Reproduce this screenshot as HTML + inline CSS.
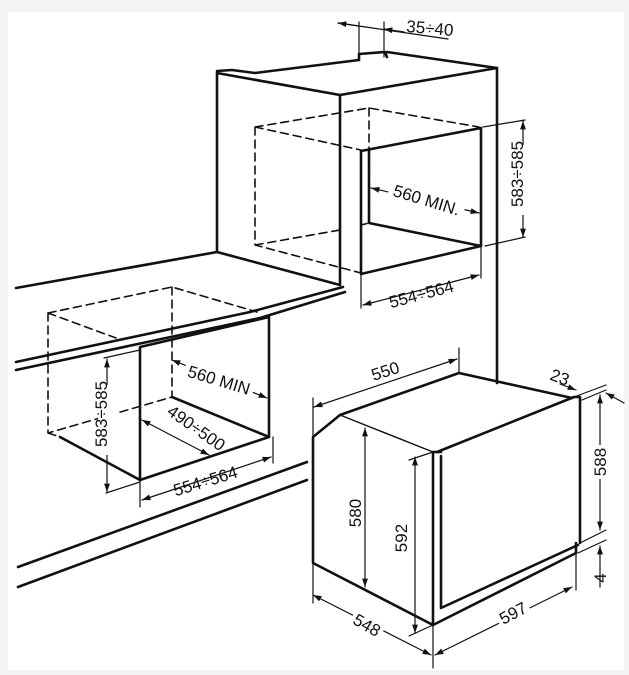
<!DOCTYPE html>
<html><head><meta charset="utf-8"><style>
html,body{margin:0;padding:0;background:#fff}
svg{display:block}
text{font-family:"Liberation Sans",sans-serif;font-size:17px;fill:#111}
</style></head><body>
<svg width="629" height="675" viewBox="0 0 629 675" xmlns="http://www.w3.org/2000/svg">
<defs>
<marker id="a" viewBox="0 0 10 10" refX="10" refY="5" markerWidth="7" markerHeight="7" orient="auto-start-reverse"><path d="M0,1.5 L10,5 L0,8.5z" fill="#111"/></marker>
</defs>
<rect x="0" y="0" width="629" height="675" fill="#f4f4f4"/>
<rect x="8" y="12" width="616" height="658" fill="#fff"/>
<g fill="none" stroke="#111" stroke-linecap="round" stroke-linejoin="round">
<!-- tall unit -->
<g stroke-width="2.6">
<path d="M217,71 L232,70 L255,73 L359,60 M387,52 L497,68 L497,383"/>
<path d="M217,73 L340,95 L497,68"/>
<path d="M217,73 L217,252 M340,95 L340,285"/>
<path d="M359,60 L359,54 L385,52 L387,57"/>
<!-- worktop -->
<path d="M16,288 L217,252 L340,285"/>
<path d="M16,362 L250,312 L343,287"/>
<path d="M16,370 L260,318 L345,292"/>
<!-- upper opening -->
<path d="M361,151 L481,128 L481,246 L361,274 Z"/>
<path d="M369,151 L369,223 L481,246"/>
<!-- lower opening -->
<path d="M140,347 L269,317 L269,437 L140,480 L140,347"/>
<path d="M60,437 L140,480 M172,397 L269,437"/>
<!-- plinth lines -->
<path d="M18,567 L307,462 M18,587 L307,480"/>
<!-- oven -->
<path d="M340,415 L459,373 L572,398"/>
<path d="M340,415 L313,437 L313,563 L433,625 L433,452"/>
<path d="M437,452 L574,397 L580,397 L580,543"/>
<path d="M441,456 L441,608 L578,545"/>
<path d="M433,625 L576,553 L576,543"/>
<path d="M433,452 L441,452"/>
</g>
<path d="M340,415 L433,452" stroke-width="1.4"/>
<!-- dashed -->
<g stroke-width="1.6" stroke-dasharray="8,5">
<path d="M255,127 L369,108 L479,127 M255,127 L361,150 M255,127 L255,245 L361,273 M369,108 L369,223 L361,225 M255,245 L340,230"/>
<path d="M48,313 L172,287 L257,312 M48,313 L116,338 M48,313 L48,433 L172,397 M172,287 L172,397 M48,433 L60,437"/>
</g>
<!-- thin dims -->
<g stroke-width="1.2">
<path d="M359,22 L359,57 M384,22 L384,57 M338,23 L448,39"/>
<path d="M359,26 L338,23" marker-end="url(#a)"/>
<path d="M404,32 L384,29" marker-end="url(#a)"/>
<path d="M371,188 L479,213" marker-start="url(#a)" marker-end="url(#a)"/>
<path d="M483,127 L525,120 M485,246 L525,237"/>
<path d="M523,121 L523,237" marker-start="url(#a)" marker-end="url(#a)"/>
<path d="M361,274 L361,308 M481,246 L481,278"/>
<path d="M363,305 L479,275" marker-start="url(#a)" marker-end="url(#a)"/>
<path d="M104,358 L140,350 M106,493 L140,482"/>
<path d="M107,359 L107,492" marker-start="url(#a)" marker-end="url(#a)"/>
<path d="M172,360 L267,398" marker-start="url(#a)" marker-end="url(#a)"/>
<path d="M142,420 L209,455" marker-start="url(#a)" marker-end="url(#a)"/>
<path d="M140,480 L140,507 M273,437 L273,463"/>
<path d="M142,500 L271,457" marker-start="url(#a)" marker-end="url(#a)"/>
<path d="M313,398 L313,437 M459,348 L459,373"/>
<path d="M314,407 L457,359" marker-start="url(#a)" marker-end="url(#a)"/>
<path d="M365,428 L365,587" marker-start="url(#a)" marker-end="url(#a)"/>
<path d="M409,460 L433,452 M409,636 L433,625"/>
<path d="M415,457 L415,633" marker-start="url(#a)" marker-end="url(#a)"/>
<path d="M582,400 L606,390 M580,543 L606,530 M578,553 L606,540"/>
<path d="M600,395 L600,530" marker-start="url(#a)" marker-end="url(#a)"/>
<path d="M600,587 L600,546" marker-end="url(#a)"/>
<path d="M574,397 L606,385"/>
<path d="M560,384 L576,390" marker-end="url(#a)"/>
<path d="M624,403 L606,393" marker-end="url(#a)"/>
<path d="M313,563 L313,603 M433,625 L433,668 M576,553 L576,590"/>
<path d="M313,595 L431,655" marker-start="url(#a)" marker-end="url(#a)"/>
<path d="M435,655 L572,587" marker-start="url(#a)" marker-end="url(#a)"/>
</g>
</g>
<!-- labels -->
<text x="430" y="34" text-anchor="middle" transform="rotate(5 430 27)">35÷40</text>
<rect x="388" y="190" width="78" height="18" fill="#fff" transform="rotate(17 427 199)"/>
<text x="427" y="206" text-anchor="middle" transform="rotate(17 427 199)">560 MIN.</text>
<rect x="514" y="145" width="18" height="70" fill="#fff"/>
<text x="529" y="180" text-anchor="middle" transform="rotate(-90 523 180)">583÷585</text>
<text x="421" y="300" text-anchor="middle" transform="rotate(-15 421 293)">554÷564</text>
<rect x="98" y="385" width="18" height="70" fill="#fff"/>
<text x="113" y="420" text-anchor="middle" transform="rotate(-90 107 420)">583÷585</text>
<rect x="183" y="371" width="72" height="18" fill="#fff" transform="rotate(17 219 380)"/>
<text x="219" y="386" text-anchor="middle" transform="rotate(17 219 380)">560 MIN</text>
<text x="197" y="434" text-anchor="middle" transform="rotate(35 197 427)">490÷500</text>
<text x="205" y="487" text-anchor="middle" transform="rotate(-17 205 480)">554÷564</text>
<text x="385" y="377" text-anchor="middle" transform="rotate(-18 385 370)">550</text>
<text x="355" y="519" text-anchor="middle" transform="rotate(-90 355 513)">580</text>
<text x="401" y="544" text-anchor="middle" transform="rotate(-90 401 538)">592</text>
<rect x="592" y="445" width="16" height="34" fill="#fff"/>
<text x="600" y="468" text-anchor="middle" transform="rotate(-90 600 462)">588</text>
<text x="600" y="584" text-anchor="middle" transform="rotate(-90 600 578)">4</text>
<text x="560" y="383" text-anchor="middle" transform="rotate(20 560 377)">23</text>
<rect x="350" y="616" width="34" height="18" fill="#fff" transform="rotate(30 367 625)"/>
<text x="367" y="631" text-anchor="middle" transform="rotate(30 367 625)">548</text>
<rect x="496" y="604" width="34" height="18" fill="#fff" transform="rotate(-28 513 613)"/>
<text x="513" y="619" text-anchor="middle" transform="rotate(-28 513 613)">597</text>
</svg>
</body></html>
